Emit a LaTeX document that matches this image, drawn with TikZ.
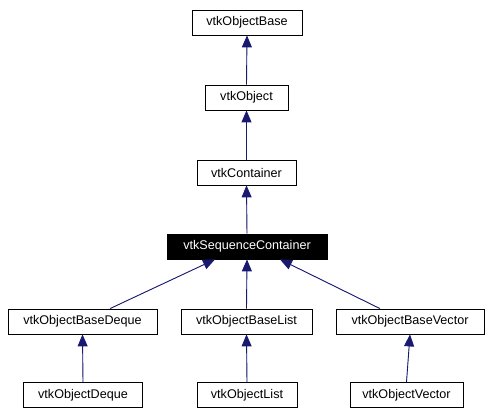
\documentclass[tikz,border=0pt]{standalone}
\usepackage{fontspec}
\setmainfont{Liberation Sans}
\usetikzlibrary{arrows.meta}
\definecolor{edgeblue}{RGB}{25,25,112}
\begin{document}
\begin{tikzpicture}[x=1pt,y=-1pt,
  cls/.style={draw=black,line width=0.8pt,fill=white,minimum height=25pt,inner sep=0pt,font=\fontsize{12.6}{14}\selectfont},
  cur/.style={cls,fill=black,text=white},
  inh/.style={draw=edgeblue,line width=0.9pt,-{Triangle[width=10pt,length=12pt]},fill=edgeblue}]
\useasboundingbox (0,0) rectangle (490,415);
\node[cls,minimum width=110pt] (ob) at (247,22.5) {vtkObjectBase};
\node[cls,minimum width=83pt] (o) at (246.5,97.5) {vtkObject};
\node[cls,minimum width=99pt] (c) at (246.5,172.5) {vtkContainer};
\node[cur,minimum width=160pt] (sc) at (247,246.5) {vtkSequenceContainer};
\node[cls,minimum width=149pt] (obd) at (82.5,321.5) {vtkObjectBaseDeque};
\node[cls,minimum width=131pt] (obl) at (246.5,321.5) {vtkObjectBaseList};
\node[cls,minimum width=148pt] (obv) at (410,321.5) {vtkObjectBaseVector};
\node[cls,minimum width=119pt] (od) at (83,395) {vtkObjectDeque};
\node[cls,minimum width=100pt] (ol) at (247,395) {vtkObjectList};
\node[cls,minimum width=113pt] (ov) at (406.5,395) {vtkObjectVector};
\draw[inh] (o.north) -- (ob.south);
\draw[inh] (c.north) -- (o.south);
\draw[inh] (sc.north) -- (c.south);
\draw[inh] ([xshift=27.5pt]obd.north) -- ([xshift=-32pt]sc.south);
\draw[inh] (obl.north) -- (sc.south);
\draw[inh] ([xshift=-30pt]obv.north) -- ([xshift=33pt]sc.south);
\draw[inh] (od.north) -- (obd.south);
\draw[inh] (ol.north) -- (obl.south);
\draw[inh] (ov.north) -- (obv.south);
\end{tikzpicture}
\end{document}
